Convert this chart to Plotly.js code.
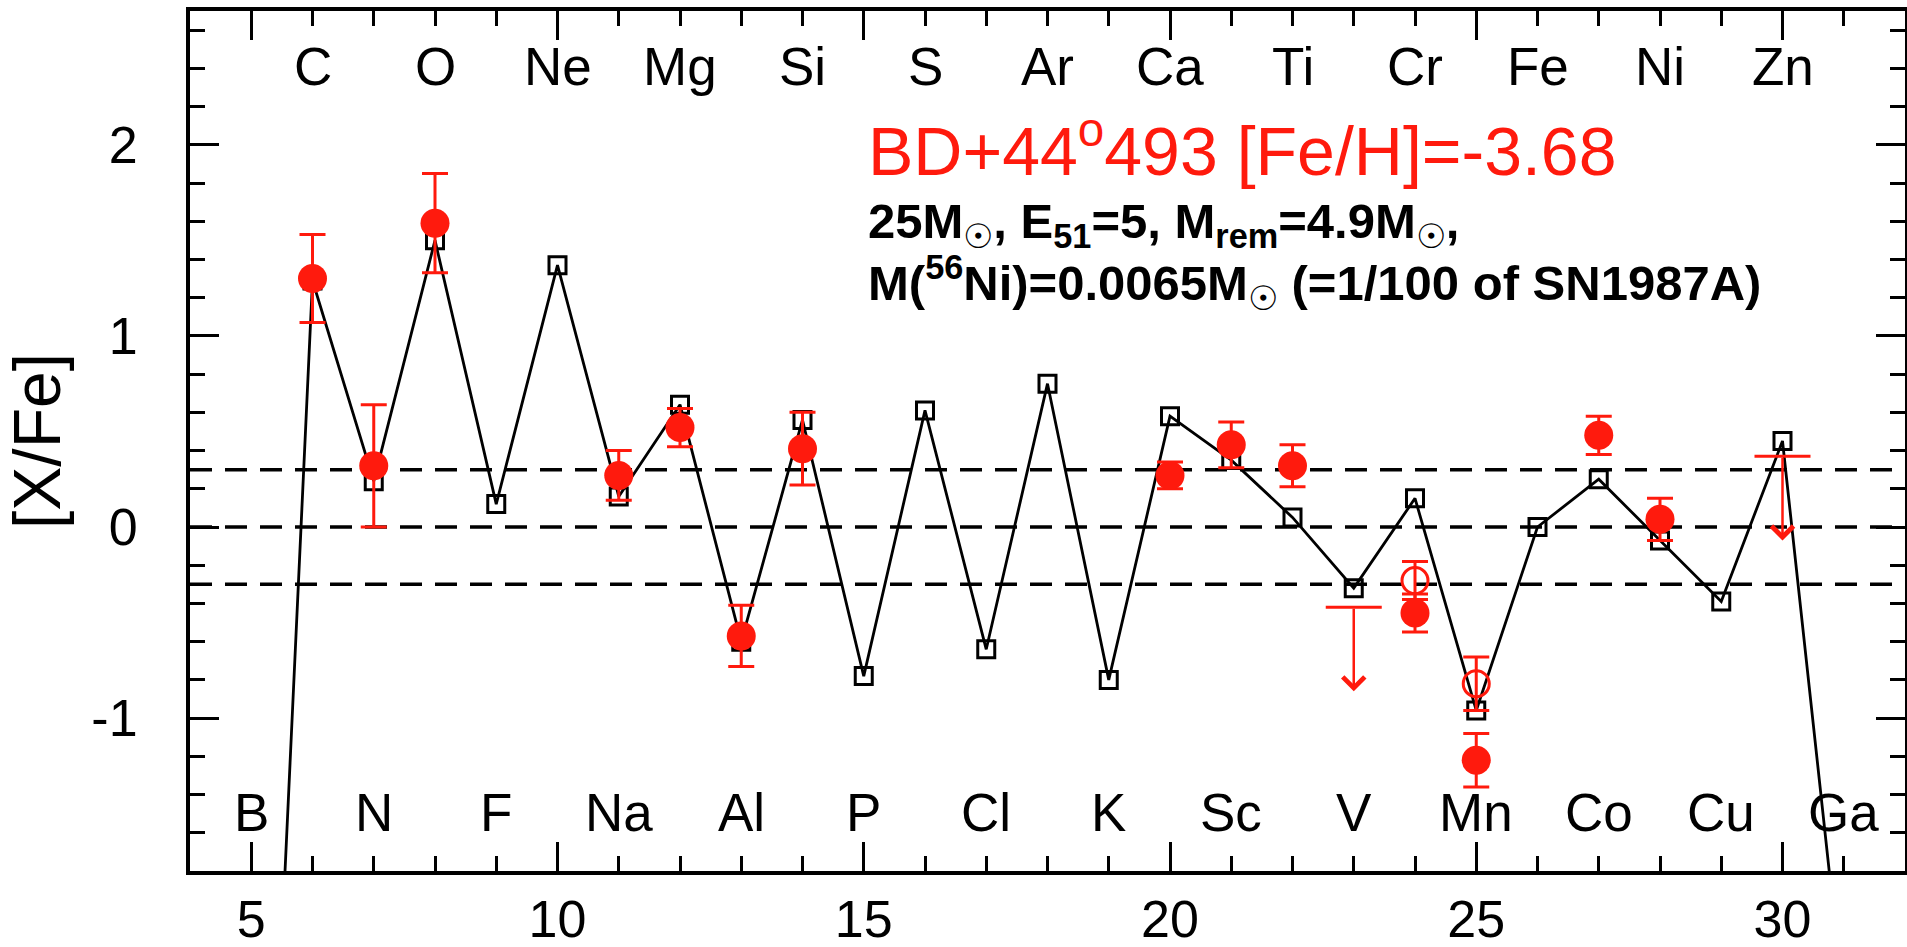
<!DOCTYPE html>
<html>
<head>
<meta charset="utf-8">
<script src="https://cdn.plot.ly/plotly-3.0.1.min.js"></script>
<style>
  html, body { margin: 0; padding: 0; background: #ffffff; }
  #chart { width: 1907px; height: 947px; }
</style>
</head>
<body>
<div id="chart"></div>
<script>
// Model yields: atomic number, element symbol, [X/Fe]
const modelZ = [5, 6, 7, 8, 9, 10, 11, 12, 13, 14, 15, 16, 17, 18, 19, 20, 21, 22, 23, 24, 25, 26, 27, 28, 29, 30, 31];
const elementSymbols = ['B', 'C', 'N', 'O', 'F', 'Ne', 'Na', 'Mg', 'Al', 'Si', 'P', 'S', 'Cl', 'Ar', 'K', 'Ca', 'Sc', 'Ti', 'V', 'Cr', 'Mn', 'Fe', 'Co', 'Ni', 'Cu', 'Zn', 'Ga'];
const modelXFe = [-5.6, 1.29, 0.24, 1.50, 0.12, 1.37, 0.16, 0.64, -0.60, 0.56, -0.78, 0.61, -0.64, 0.75, -0.80, 0.58, 0.35, 0.05, -0.32, 0.15, -0.96, 0.00, 0.25, -0.07, -0.39, 0.45, -2.50];

// Observed abundances of BD+44 493 (filled symbols)
const obsZ = [6, 7, 8, 11, 12, 13, 14, 20, 21, 22, 24, 25, 27, 28];
const obsXFe = [1.30, 0.32, 1.59, 0.27, 0.52, -0.57, 0.41, 0.27, 0.43, 0.32, -0.45, -1.22, 0.48, 0.04];
const obsErr = [0.23, 0.32, 0.26, 0.13, 0.10, 0.16, 0.19, 0.07, 0.12, 0.11, 0.10, 0.14, 0.10, 0.11];

// Alternative determinations (open symbols)
const altZ = [24, 25];
const altXFe = [-0.28, -0.82];
const altErr = [0.10, 0.14];

// Upper limits
const limitZ = [23, 30];
const limitXFe = [-0.42, 0.37];

// Reference levels
const refLevels = [0.3, 0, -0.3];

// Axis tick values and labels
const xTickVals = [5, 10, 15, 20, 25, 30];
const yTickVals = [-1, 0, 1, 2];
const yTickText = ['-1', '0', '1', '2'];

const RED = '#ff1a0d';
const FONT = 'Liberation Sans, Arial, sans-serif';
const arrowLen = 0.44;

const traces = [
  {
    x: modelZ, y: modelXFe, type: 'scatter', mode: 'lines+markers',
    line: { color: '#000', width: 2.8 },
    marker: { symbol: 'square-open', size: 17, color: '#000', line: { color: '#000', width: 3 } },
    hoverinfo: 'skip'
  },
  {
    x: altZ, y: altXFe, type: 'scatter', mode: 'markers',
    marker: { symbol: 'circle-open', size: 26, color: RED, line: { color: RED, width: 3 } },
    error_y: { type: 'data', array: altErr, visible: true, color: RED, thickness: 3, width: 13 },
    hoverinfo: 'skip'
  },
  {
    x: obsZ, y: obsXFe, type: 'scatter', mode: 'markers',
    marker: { symbol: 'circle', size: 29, color: RED, line: { width: 0 } },
    error_y: { type: 'data', array: obsErr, visible: true, color: RED, thickness: 3, width: 13 },
    hoverinfo: 'skip'
  },
  {
    x: limitZ, y: limitXFe, type: 'scatter', mode: 'markers',
    marker: { symbol: 'line-ew', size: 40, color: RED, line: { color: RED, width: 3 } },
    hoverinfo: 'skip'
  }
];

const annotations = [];

// Element symbols: even Z along the top, odd Z along the bottom
modelZ.forEach((z, i) => {
  const top = z % 2 === 0;
  annotations.push({
    x: z, xref: 'x', y: top ? 0.935 : 0.068, yref: 'paper',
    text: elementSymbols[i], showarrow: false,
    xanchor: 'center', yanchor: 'middle',
    font: { family: FONT, size: 53, color: '#000' }
  });
});

// Upper-limit arrows
limitZ.forEach((z, i) => {
  annotations.push({
    x: z, y: limitXFe[i] - arrowLen, xref: 'x', yref: 'y',
    ax: z, ay: limitXFe[i], axref: 'x', ayref: 'y',
    text: '', showarrow: true, arrowhead: 4, arrowsize: 1.7, arrowwidth: 2.5,
    arrowcolor: RED, standoff: 0, startstandoff: 0
  });
});

// Star name and model parameters
annotations.push({
  x: 0.394, xref: 'paper', y: 0.843, yref: 'paper',
  xanchor: 'left', yanchor: 'middle', showarrow: false,
  text: 'BD+44<sup>o</sup>493 [Fe/H]=-3.68',
  font: { family: FONT, size: 68, color: RED }
});
annotations.push({
  x: 0.394, xref: 'paper', y: 0.752, yref: 'paper',
  xanchor: 'left', yanchor: 'middle', showarrow: false,
  text: '<b>25M<sub><span style="font-weight:normal">☉</span></sub>, E<sub>51</sub>=5, M<sub>rem</sub>=4.9M<sub><span style="font-weight:normal">☉</span></sub>,</b>',
  font: { family: FONT, size: 49, color: '#000' }
});
annotations.push({
  x: 0.394, xref: 'paper', y: 0.684, yref: 'paper',
  xanchor: 'left', yanchor: 'middle', showarrow: false,
  text: '<b>M(<sup>56</sup>Ni)=0.0065M<sub><span style="font-weight:normal">☉</span></sub> (=1/100 of SN1987A)</b>',
  font: { family: FONT, size: 49, color: '#000' }
});

const shapes = refLevels.map(v => ({
  type: 'line', xref: 'paper', x0: 0, x1: 1, yref: 'y', y0: v, y1: v,
  line: { color: '#000', width: 3.5, dash: '22px,13px' }, layer: 'below'
}));

const layout = {
  width: 1907, height: 947,
  margin: { l: 190, r: 2, t: 11, b: 76 },
  paper_bgcolor: '#fff', plot_bgcolor: '#fff',
  showlegend: false,
  font: { family: FONT, color: '#000' },
  xaxis: {
    range: [4, 32], tickmode: 'array', tickvals: xTickVals,
    ticks: 'inside', ticklen: 29, tickwidth: 3, tickcolor: '#000',
    minor: { ticks: 'inside', dtick: 1, ticklen: 15, tickwidth: 3, tickcolor: '#000' },
    showline: true, linewidth: 4, linecolor: '#000', mirror: 'allticks',
    showgrid: false, zeroline: false,
    tickfont: { family: FONT, size: 52, color: '#000' },
    ticklabelstandoff: 0
  },
  yaxis: {
    range: [-1.8, 2.7], tickmode: 'array', tickvals: yTickVals, ticktext: yTickText,
    ticks: 'inside', ticklen: 29, tickwidth: 3, tickcolor: '#000',
    minor: { ticks: 'inside', dtick: 0.2, ticklen: 15, tickwidth: 3, tickcolor: '#000' },
    showline: true, linewidth: 4, linecolor: '#000', mirror: 'allticks',
    showgrid: false, zeroline: false,
    tickfont: { family: FONT, size: 52, color: '#000' },
    ticklabelstandoff: 38,
    title: { text: '[X/Fe]', font: { family: FONT, size: 66, color: '#000' }, standoff: 44 }
  },
  annotations: annotations,
  shapes: shapes
};

Plotly.newPlot('chart', traces, layout, { staticPlot: true, displayModeBar: false });
</script>
</body>
</html>
